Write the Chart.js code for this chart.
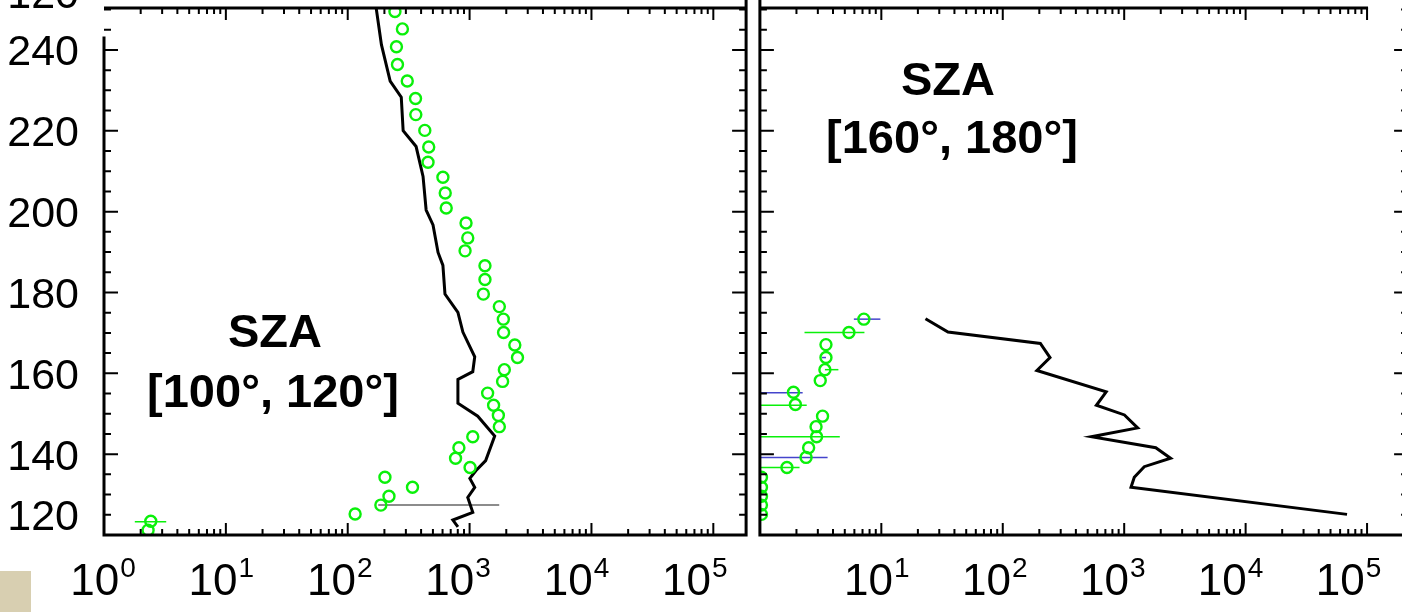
<!DOCTYPE html>
<html>
<head>
<meta charset="utf-8">
<script src="https://cdn.jsdelivr.net/npm/chart.js@4.4.1/dist/chart.umd.min.js"></script>
<style>
  html, body { margin: 0; padding: 0; background: #fff; overflow: hidden; width: 1402px; height: 612px; }
  #leftChart { position: absolute; left: 0; top: 0; }
  #rightChart { position: absolute; left: 752px; top: 0; }
  .swatch { position: absolute; left: 0; top: 571px; width: 31px; height: 41px; background: #d8cfb1; }
</style>
</head>
<body>
<canvas id="leftChart" width="754" height="612"></canvas>
<canvas id="rightChart" width="664" height="612"></canvas>
<div class="swatch"></div>
<script>
// ---- data: SZA [100, 120] (left panel) ----
const leftModelAlt = [251, 241.3, 232.3, 228.3, 220.0, 216.1, 208.7, 200.4, 196.7, 189.9, 186.7, 179.6, 175.1, 170.2,
  164.1, 160.4, 158.5, 152.6, 149.4, 144.5, 138.4, 135.9, 134.0, 131.8, 129.3, 125.6, 123.7, 122.0];
const leftModelVal = [170, 189, 223, 275, 285, 364, 415, 440, 501, 551, 604, 628, 802, 881,
  1102, 1062, 802, 802, 1167, 1607, 1355, 1125, 1005, 1102, 966, 1062, 729, 802];

const leftObsAlt = [249.5, 245.2, 240.8, 236.4, 232.3, 228.0, 224.0, 220.1, 216.0, 212.2, 208.5, 204.6, 200.9, 197.2,
  193.5, 190.3, 186.6, 183.2, 179.6, 176.5, 173.4, 170.1, 167.0, 163.9, 160.9, 158.0, 155.1, 152.1, 149.6, 146.8,
  144.3, 141.6, 139.0, 136.7, 134.3, 131.8, 129.6, 127.4, 125.2, 123.4, 121.2];
const leftObsVal = [244, 281, 251, 256, 308, 360, 362, 429, 462, 456, 604, 631, 643, 935,
  966, 918, 1337, 1337, 1297, 1754, 1892, 1901, 2350, 2472, 1928, 1866, 1406, 1574, 1722, 1754,
  1062, 817, 767, 1009, 202, 340, 218, 187, 115, 2.42, 2.30];

const leftErrGray = [{ alt: 127.4, lo: 178, hi: 1750 }];
const leftErrGreen = [{ alt: 123.3, lo: 1.79, hi: 3.24 }];

// ---- data: SZA [160, 180] (right panel) ----
const rightModelAlt = [173.5, 170.2, 167.4, 163.9, 160.7, 155.4, 152.1, 149.7, 146.5, 144.3, 141.6, 139.0, 136.9, 134.3, 131.8, 125.1];
const rightModelVal = [23.1, 35.4, 204, 245, 191, 711, 590, 1005, 1291, 537, 1820, 2410, 1462, 1211, 1138, 68400];

const rightObsAlt = [173.4, 170.1, 167.1, 163.9, 160.9, 158.2, 155.3, 152.3, 149.4, 146.8, 144.3, 141.6, 139.2, 136.7,
  134.3, 131.8, 129.6, 127.4, 125.1];
const rightObsVal = [7.18, 5.41, 3.50, 3.50, 3.43, 3.14, 1.89, 1.96, 3.28, 2.90, 2.93, 2.52, 2.40, 1.67,
  1.03, 1.03, 1.03, 1.03, 1.03];

const rightErrBlue = [
  { alt: 173.4, lo: 5.94, hi: 9.82 },
  { alt: 163.9, lo: 3.24, hi: 3.50 },
  { alt: 155.2, lo: 0.5, hi: 2.25 },
  { alt: 139.2, lo: 0.5, hi: 3.61 }
];
const rightErrGreen = [
  { alt: 170.1, lo: 2.33, hi: 7.26 },
  { alt: 160.9, lo: 3.43, hi: 4.43 },
  { alt: 152.1, lo: 0.5, hi: 2.43 },
  { alt: 144.3, lo: 0.5, hi: 4.55 },
  { alt: 136.7, lo: 0.5, hi: 2.12 }
];

// axes
const altMin = 120, altMax = 250.4;
const yLabelValues = [125, 140, 160, 180, 200, 220, 240];
const yLabelTexts = ['120', '140', '160', '180', '200', '220', '240'];
const upperPanelLabel = '120';
const leftXExps = [0, 1, 2, 3, 4, 5];
const rightXExps = [1, 2, 3, 4, 5];

const GREEN = 'rgb(10,240,10)';
const BLUE = '#4444cc';
const GRAY = '#666';
const FONT = '"Liberation Sans", Arial, sans-serif';

function zip(vals, alts) {
  return vals.map((v, i) => ({ x: v, y: alts[i] }));
}

function errSets(list, color) {
  return list.map(e => ({
    data: [{ x: e.lo, y: e.alt }, { x: e.hi, y: e.alt }],
    showLine: true, borderColor: color, borderWidth: 1.5, pointRadius: 0, order: 2, clip: 0
  }));
}

const frame = {
  id: 'frame',
  afterDatasetsDraw(chart, args, opts) {
    const ctx = chart.ctx, a = chart.chartArea;
    const xs = chart.scales.x, ys = chart.scales.y;
    ctx.save();
    ctx.strokeStyle = '#000';
    ctx.lineWidth = 2;
    ctx.beginPath();
    for (let n = 0; n <= 5; n++) {
      for (let k = 1; k <= 9; k++) {
        const v = k * Math.pow(10, n);
        const px = xs.getPixelForValue(v);
        if (px <= a.left + 2 || px >= a.right - 2) continue;
        const len = k === 1 ? 12 : 6;
        ctx.moveTo(px, a.bottom); ctx.lineTo(px, a.bottom - len);
        if (opts.topEnd == null || v <= opts.topEnd) {
          ctx.moveTo(px, a.top); ctx.lineTo(px, a.top + len);
        }
      }
    }
    for (let v = 125; v <= 250; v += 5) {
      const py = ys.getPixelForValue(v);
      const len = v % 20 === 0 ? 14 : 7;
      ctx.moveTo(a.left, py); ctx.lineTo(a.left + len, py);
      ctx.moveTo(a.right, py); ctx.lineTo(a.right - len, py);
    }
    ctx.stroke();

    ctx.lineWidth = 3;
    ctx.beginPath();
    ctx.moveTo(a.left, a.bottom); ctx.lineTo(a.right, a.bottom);
    ctx.moveTo(a.left, a.top);
    ctx.lineTo(opts.topEnd == null ? a.right : xs.getPixelForValue(opts.topEnd) + 1, a.top);
    ctx.moveTo(a.left, opts.leftFrom == null ? 0 : ys.getPixelForValue(opts.leftFrom));
    ctx.lineTo(a.left, a.bottom + 1.5);
    ctx.moveTo(a.right, 0); ctx.lineTo(a.right, a.bottom + 1.5);
    ctx.stroke();
    ctx.restore();
  },
  afterDraw(chart, args, opts) {
    const ctx = chart.ctx, a = chart.chartArea;
    const xs = chart.scales.x, ys = chart.scales.y;
    ctx.save();
    ctx.fillStyle = '#000';
    if (opts.yLabels) {
      ctx.font = '43px ' + FONT;
      ctx.textAlign = 'right';
      ctx.textBaseline = 'alphabetic';
      yLabelValues.forEach((v, i) => {
        ctx.fillText(yLabelTexts[i], a.left - 25, ys.getPixelForValue(v) + 15.5);
      });
      ctx.fillText(upperPanelLabel, a.left - 25, a.top);
    }
    ctx.textAlign = 'left';
    opts.xExps.forEach(exp => {
      const cx = xs.getPixelForValue(Math.pow(10, exp)) - (1 + 3.5 * exp);
      ctx.font = '44px ' + FONT;
      const w1 = ctx.measureText('10').width;
      ctx.font = '28px ' + FONT;
      const w2 = ctx.measureText(String(exp)).width;
      const x0 = cx - (w1 + w2 + 1) / 2;
      ctx.font = '44px ' + FONT;
      ctx.fillText('10', x0, 595);
      ctx.font = '28px ' + FONT;
      ctx.fillText(String(exp), x0 + w1 + 1, 577);
    });
    ctx.font = 'bold 47px ' + FONT;
    ctx.textAlign = 'center';
    opts.title.forEach(t => ctx.fillText(t.text, t.cx, t.base));
    ctx.restore();
  }
};

function makePanel(id, datasets, xMax, padding, frameOpts) {
  return new Chart(document.getElementById(id), {
    type: 'scatter',
    data: { datasets },
    options: {
      responsive: false,
      animation: false,
      devicePixelRatio: 1,
      layout: { padding },
      plugins: { legend: { display: false }, tooltip: { enabled: false }, frame: frameOpts },
      scales: {
        x: { type: 'logarithmic', display: false, min: 1, max: xMax },
        y: { type: 'linear', display: false, min: altMin, max: altMax }
      }
    },
    plugins: [frame]
  });
}

makePanel('leftChart', [
  { data: zip(leftObsVal, leftObsAlt), pointRadius: 5.5, pointBorderWidth: 2.4, borderColor: GREEN,
    backgroundColor: 'rgba(0,0,0,0)', order: 0, clip: 0 },
  { data: zip(leftModelVal, leftModelAlt), showLine: true, borderColor: '#000', borderWidth: 3,
    pointRadius: 0, order: 1, clip: 0 },
  ...errSets(leftErrGray, GRAY),
  ...errSets(leftErrGreen, GREEN)
], Math.pow(10, 5.269), { left: 104, right: 4, top: 3, bottom: 77 }, {
  yLabels: true, xExps: leftXExps, leftFrom: 243.3,
  title: [{ text: 'SZA', cx: 275, base: 347 }, { text: '[100°, 120°]', cx: 273, base: 407 }]
});

makePanel('rightChart', [
  { data: zip(rightObsVal, rightObsAlt), pointRadius: 5.5, pointBorderWidth: 2.4, borderColor: GREEN,
    backgroundColor: 'rgba(0,0,0,0)', order: 0, clip: 0 },
  { data: zip(rightModelVal, rightModelAlt), showLine: true, borderColor: '#000', borderWidth: 3,
    pointRadius: 0, order: 1, clip: 0 },
  ...errSets(rightErrBlue, BLUE),
  ...errSets(rightErrGreen, GREEN)
], Math.pow(10, 5.338), { left: 7, right: 2, top: 3, bottom: 77 }, {
  yLabels: false, xExps: rightXExps, topEnd: 1e5,
  title: [{ text: 'SZA', cx: 196, base: 95 }, { text: '[160°, 180°]', cx: 200, base: 153 }]
});
</script>
</body>
</html>
